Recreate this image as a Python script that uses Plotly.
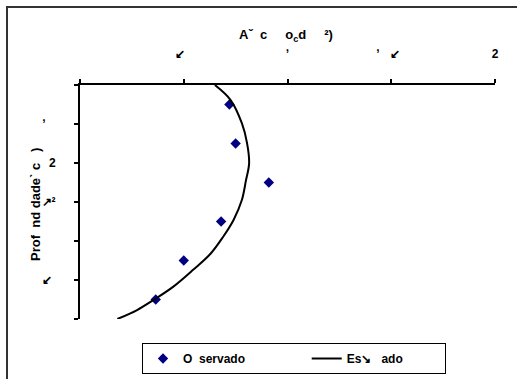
import plotly.graph_objects as go

# Observed soil-water values by depth
obs_depth = [5, 15, 25, 35, 45, 55]
obs_value = [0.144, 0.150, 0.182, 0.136, 0.100, 0.073]

# Fitted (estimated) profile
est_depth = [0, 3.8, 9.8, 14.9, 20.1, 24.4, 29.5, 34.6, 38.9, 43.2, 47.4, 51.7, 55.1, 57.7, 60]
est_value = [0.130, 0.145, 0.156, 0.161, 0.163, 0.160, 0.156, 0.148, 0.138, 0.126, 0.109, 0.090, 0.071, 0.055, 0.036]

NB = "\u00a0"

# Axis ticks and their labels
x_ticks = [0, 0.1, 0.2, 0.3, 0.4]
x_ticktext = ["", "↙" + NB * 2, "ʼ", "ʼ" + NB * 3 + "↙" + NB * 2, "2"]
y_ticks = [0, 10, 20, 30, 40, 50, 60]
y_ticktext = ["", "ʼ" + NB * 3, "2", "↗²", "", "↙" + NB, ""]

W, H = 517, 379
L, R, T, B = 80, 22, 85, 60
PW, PH = W - L - R, H - T - B


def px_x(p):
    return (p - L) / PW


def px_y(p):
    return 1 - (p - T) / PH


FONT = "Liberation Sans, Arial, sans-serif"

fig = go.Figure()
fig.add_trace(go.Scatter(
    x=obs_value, y=obs_depth, mode="markers",
    name="<b>O" + NB * 2 + "servado</b>" + NB * 17,
    marker=dict(symbol="diamond", size=8, color="#000080"),
))
fig.add_trace(go.Scatter(
    x=est_value, y=est_depth, mode="lines",
    name="<b>Es\u2198" + NB * 3 + "ado</b>" + NB * 11,
    line=dict(color="black", width=2, shape="spline"),
))

fig.update_layout(
    width=W, height=H,
    margin=dict(l=L, r=R, t=T, b=B, autoexpand=False),
    paper_bgcolor="white", plot_bgcolor="white",
    font=dict(family=FONT, size=12, color="black"),
    showlegend=True,
    legend=dict(
        orientation="h", xref="container", yref="container",
        x=142 / W, y=1 - 343 / H, xanchor="left", yanchor="top",
        bordercolor="black", borderwidth=1, bgcolor="white",
        itemwidth=30, font=dict(size=12),
    ),
    xaxis=dict(
        side="top", range=[0, 0.4], tickvals=x_ticks, ticktext=x_ticktext,
        showgrid=False, zeroline=False, showline=True, linecolor="black", linewidth=2,
        ticks="outside", ticklen=4, tickwidth=2, tickcolor="black",
        ticklabelstandoff=16, tickfont=dict(size=12, family=FONT, weight="bold"),
    ),
    yaxis=dict(
        range=[60, 0], tickvals=y_ticks, ticktext=y_ticktext,
        showgrid=False, zeroline=False, showline=True, linecolor="black", linewidth=2,
        ticks="outside", ticklen=4, tickwidth=2, tickcolor="black",
        ticklabelstandoff=16, tickfont=dict(size=12, family=FONT, weight="bold"),
    ),
    shapes=[dict(
        type="rect", xref="paper", yref="paper",
        x0=px_x(7), x1=px_x(W + 10), y0=px_y(H + 10), y1=px_y(7),
        line=dict(color="#333333", width=2), fillcolor="rgba(0,0,0,0)", layer="below",
    )],
    annotations=[
        dict(text="<b>A\u02c7" + NB * 2 + "c" + NB * 5 + "o<sub>c</sub>d" + NB * 5 + "\u00b2)</b>",
             xref="paper", yref="paper",
             x=px_x(286), y=px_y(35), showarrow=False, font=dict(size=13),
             xanchor="center", yanchor="middle"),
        dict(text="<b>Prof" + NB * 2 + "nd dade\u02cb c" + NB * 3 + ")</b>",
             xref="paper", yref="paper",
             x=px_x(35), y=px_y(205), showarrow=False, textangle=-90, font=dict(size=13),
             xanchor="center", yanchor="middle"),
    ],
)

fig.write_html("out.html")
